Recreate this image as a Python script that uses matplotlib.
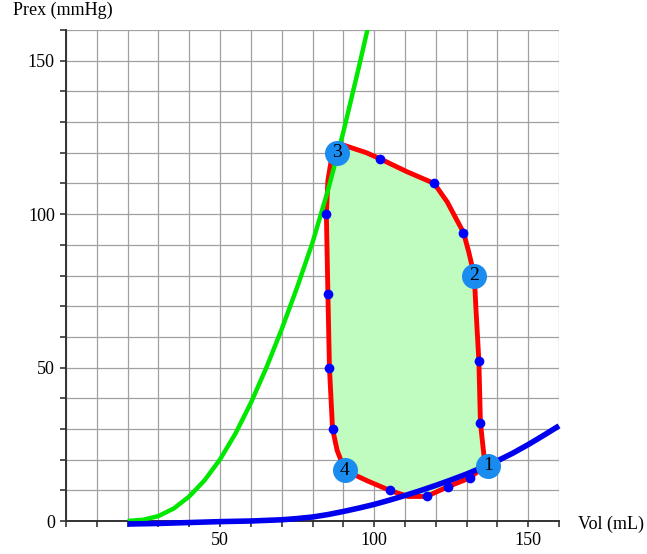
import numpy as np
import matplotlib.pyplot as plt

# end-systolic pressure-volume line (green)
esp_vol = [20, 25, 30, 35, 40, 45, 50, 55, 60, 65, 70, 75, 80, 85, 90, 95, 98.5]
esp_prs = [0, 0.4, 1.6, 4.1, 8.0, 13.3, 20.1, 28.5, 38.5, 49.9, 62.5, 76.1, 90.7,
           107.7, 126.7, 147.7, 163]

# end-diastolic pressure-volume curve (blue)
edp_vol = [20, 30, 40, 50, 60, 70, 75, 80, 85, 90, 95, 100, 105, 110, 115, 120, 125,
           130, 135, 140, 145, 150, 155, 160]
edp_prs = [-1, -0.8, -0.5, -0.2, 0, 0.4, 0.8, 1.3, 2.1, 3.1, 4.2, 5.4, 6.8, 8.3, 9.9,
           11.6, 13.4, 15.3, 17.4, 19.6, 22.1, 24.9, 27.9, 31]

# pressure-volume loop (red)
loop_vol = [136, 134.5, 134, 133, 132.5, 130.7, 129, 123.7, 119.5, 110.7, 102, 97.5,
            90, 88, 86, 85, 84.5, 85, 85.5, 86.5, 88, 90.5, 98, 105, 111, 117, 124,
            131, 136]
loop_prs = [18, 32, 52, 70, 80, 87.7, 94, 104, 110, 113.8, 118, 120, 122.5, 122.5,
            117, 111, 100, 74, 50, 30, 23, 16.5, 13, 10, 8, 8, 11.2, 14, 18]

# sample points on the loop
dot_vol = [134.5, 134, 129, 119.5, 102, 84.5, 85, 85.5, 86.5, 105, 117, 124, 131]
dot_prs = [32, 52, 94, 110, 118, 100, 74, 50, 30, 10, 8, 11.2, 14]

# numbered corner points
corner_vol = [137, 132.5, 88, 90.5]
corner_prs = [18, 80, 120, 16.5]
corner_lbl = ['1', '2', '3', '4']

plt.rcParams['font.family'] = ['Liberation Serif', 'DejaVu Serif']

fig = plt.figure(figsize=(6.47, 5.54), dpi=100)
ax = fig.add_axes([66 / 647, 33 / 554, 493 / 647, 491 / 554])

ax.fill(loop_vol, loop_prs, color='#c0fcc0', lw=0, zorder=2)
ax.plot(loop_vol, loop_prs, color='#ff0000', lw=3.5, zorder=3, solid_joinstyle='round')
ax.plot(esp_vol, esp_prs, color='#00e800', lw=3.2, zorder=4, solid_capstyle='butt')
ax.plot(edp_vol, edp_prs, color='#0000ee', lw=4, zorder=5, clip_on=False,
        solid_capstyle='butt')
ax.plot(dot_vol, dot_prs, 'o', color='#0000ff', ms=7, mec='none', zorder=6)
ax.plot(corner_vol, corner_prs, 'o', color='#1a8cf0', ms=18, mec='none', zorder=7,
        clip_on=False)
for v, p, s in zip(corner_vol, corner_prs, corner_lbl):
    ax.text(v, p, s, ha='center', va='center', fontsize=14, zorder=8)

ax.set_xlim(0, 160)
ax.set_ylim(0, 160)
ax.set_xticks([50, 100, 150])
ax.set_yticks([0, 50, 100, 150])
ax.set_xticks(np.arange(0, 161, 10), minor=True)
ax.set_yticks(np.arange(0, 161, 10), minor=True)
ax.grid(True, which='both', color='#a0a0a0', lw=0.9, zorder=0)
ax.set_axisbelow(True)
for side in ['top', 'right']:
    ax.spines[side].set_visible(False)
for side in ['left', 'bottom']:
    ax.spines[side].set_color('#333333')
    ax.spines[side].set_linewidth(1.4)
ax.tick_params(which='both', direction='out', length=4, width=1.2, color='#333333',
               labelsize=13, pad=4)

fig.text(13 / 647, 1 - 2 / 554, 'Prex (mmHg)', ha='left', va='top', fontsize=13)
fig.text(578 / 647, 1 - 524 / 554, 'Vol (mL)', ha='left', va='center', fontsize=13)

fig.savefig('out.png', dpi=100)
